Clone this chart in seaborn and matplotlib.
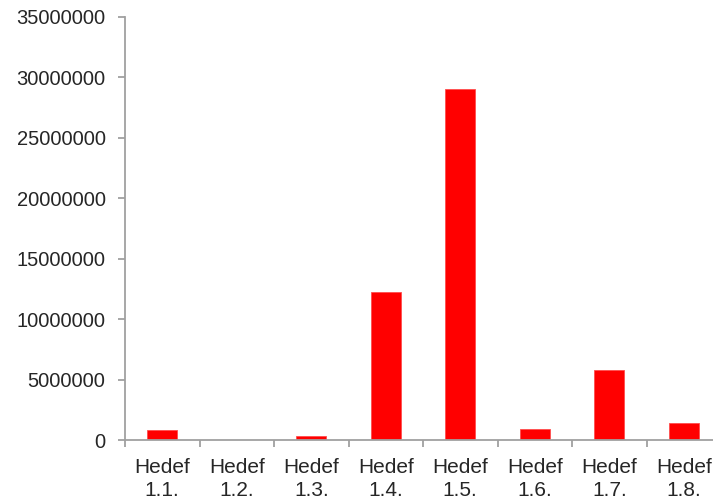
import numpy as np
import pandas as pd
import matplotlib
matplotlib.use("Agg")
import matplotlib.pyplot as plt
from matplotlib.ticker import FixedLocator
import seaborn as sns

sns.set_style("white")
plt.rcParams['font.family'] = ['Liberation Sans', 'DejaVu Sans']

categories = ['Hedef\n1.1.', 'Hedef\n1.2.', 'Hedef\n1.3.', 'Hedef\n1.4.',
              'Hedef\n1.5.', 'Hedef\n1.6.', 'Hedef\n1.7.', 'Hedef\n1.8.']
values = [830000, 0, 330000, 12230000, 29040000, 890000, 5800000, 1430000]
yticks = [0, 5000000, 10000000, 15000000, 20000000, 25000000, 30000000, 35000000]

df = pd.DataFrame({'cat': categories, 'val': values})

fig = plt.figure(figsize=(7.13, 5.04), dpi=100)
ax = fig.add_axes([125 / 713, 64 / 504, 596 / 713, 423 / 504])

sns.barplot(data=df, x='cat', y='val', color='#ff0000', width=0.4,
            saturation=1, ax=ax, edgecolor='#ff4d4d', linewidth=0.6)

ax.set_xlim(-0.5, 7.5)
ax.set_ylim(0, 35000000)
ax.set_yticks(yticks)
ax.set_yticklabels([str(v) for v in yticks])
ax.set_xlabel('')
ax.set_ylabel('')

for s in ['top', 'right']:
    ax.spines[s].set_visible(False)
for s in ['left', 'bottom']:
    ax.spines[s].set_color('#a0a0a0')
    ax.spines[s].set_linewidth(1.3)

ax.xaxis.set_minor_locator(FixedLocator(np.arange(-0.5, 8, 1)))
ax.tick_params(axis='x', which='major', length=0, pad=13, labelsize=15, labelcolor='#262626')
ax.tick_params(axis='x', which='minor', bottom=True, length=5, width=1.3, color='#a0a0a0', direction='out')
ax.tick_params(axis='y', which='major', left=True, length=5, width=1.3, color='#a0a0a0',
               direction='out', pad=9, labelsize=14.5, labelcolor='#262626')
for lab in ax.get_xticklabels():
    lab.set_linespacing(1.25)

fig.savefig('out.png', dpi=100)
